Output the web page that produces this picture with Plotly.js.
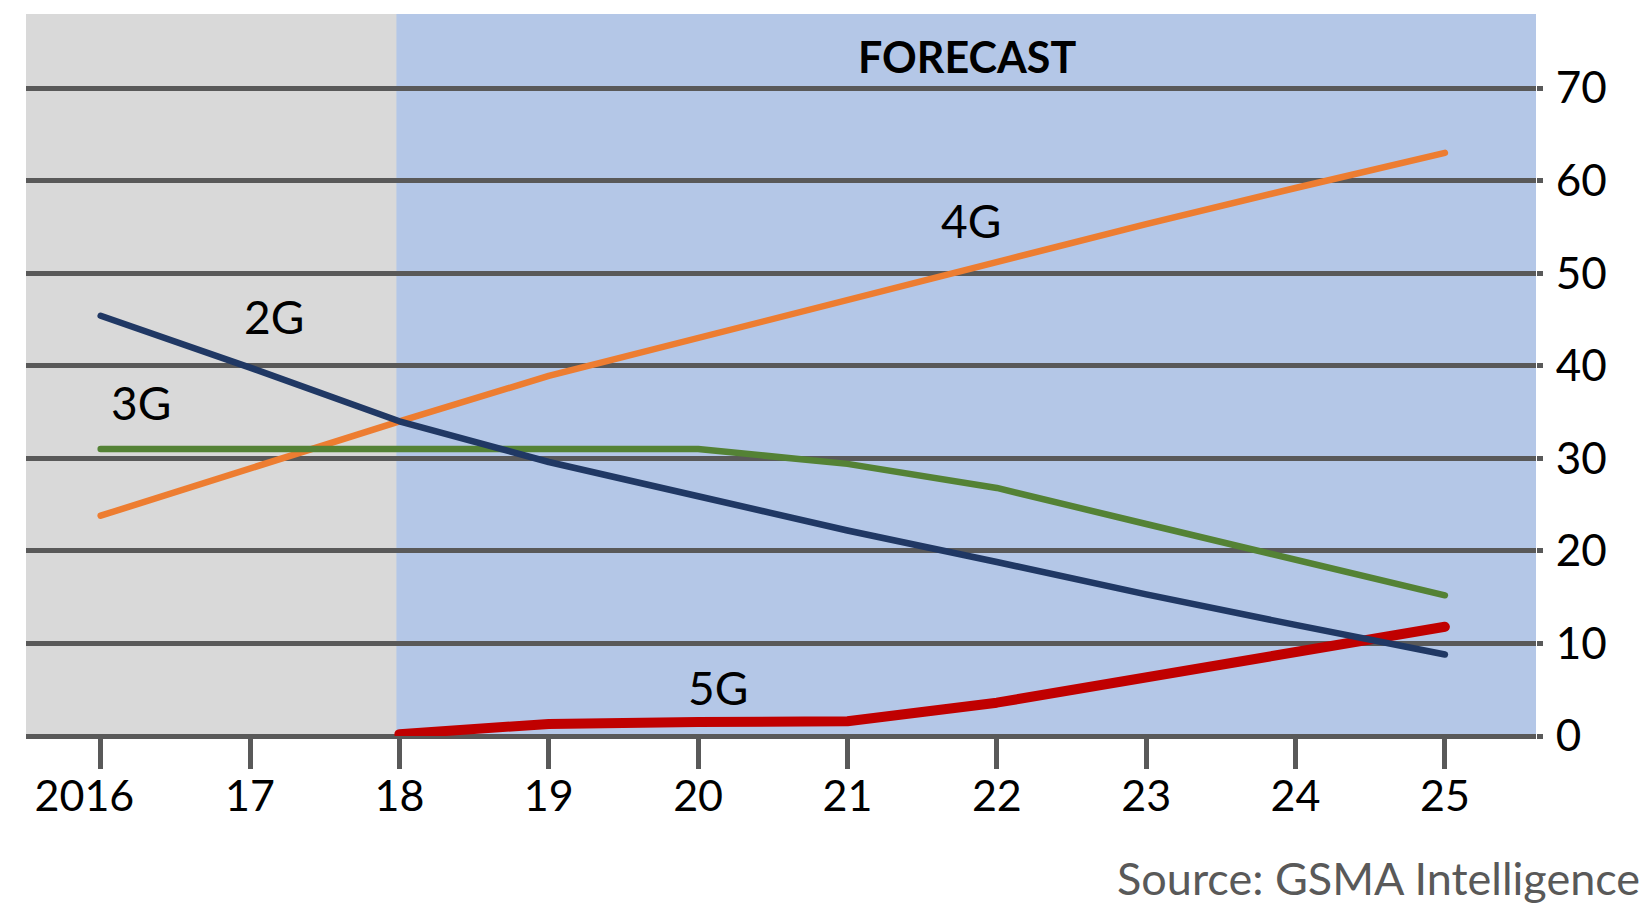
<!DOCTYPE html>
<html>
<head>
<meta charset="utf-8">
<script src="https://cdn.plot.ly/plotly-3.0.1.min.js"></script>
<style>
html, body { margin: 0; padding: 0; background: #ffffff; }
#chart { width: 1645px; height: 908px; }
.scatterlayer path.js-line { stroke-linecap: round; stroke-linejoin: round; }
</style>
</head>
<body>
<div id="chart"></div>
<script>
// Years on the x axis
const years = [2016, 2017, 2018, 2019, 2020, 2021, 2022, 2023, 2024, 2025];
const yearLabels = ["2016\u2002\u00a0", "17", "18", "19", "20", "21", "22", "23", "24", "25"];

// Series values
const g2 = [45.4, 39.8, 34.0, 29.6, 25.9, 22.2, 18.8, 15.3, 12.0, 8.8];
const g3 = [31.0, 31.0, 31.0, 31.0, 31.0, 29.4, 26.8, 22.9, 19.1, 15.2];
const g4 = [23.8, 28.9, 34.0, 38.9, 43.0, 47.1, 51.2, 55.3, 59.2, 63.0];
const g5 = [null, null, 0.2, 1.3, 1.5, 1.6, 3.6, 6.3, 9.0, 11.8];

// Series labels and where they sit
const seriesNames = ["2G", "3G", "4G", "5G"];
const labelX = [2017.16, 2016.27, 2021.83, 2020.13];
const labelY = [45.3, 36.0, 55.7, 5.2];

const yTicks = [0, 10, 20, 30, 40, 50, 60, 70];
const forecastStart = 2018;

const FONT = "Lato, 'Noto Sans', sans-serif";

const traces = [
  { x: years, y: g5, name: "5G", mode: "lines", line: { color: "#C00000", width: 10 }, connectgaps: false },
  { x: years, y: g4, name: "4G", mode: "lines", line: { color: "#ED7D31", width: 6.5 } },
  { x: years, y: g3, name: "3G", mode: "lines", line: { color: "#548235", width: 6.5 } },
  { x: years, y: g2, name: "2G", mode: "lines", line: { color: "#203864", width: 6.5 } }
];

const annotations = seriesNames.map((n, i) => ({
  x: labelX[i], y: labelY[i], xref: "x", yref: "y", text: n, showarrow: false,
  font: { family: FONT, size: 46, color: "#000000" }
}));
annotations.push({
  x: 2021.8, y: 73.4, xref: "x", yref: "y", text: "<b>FORECAST</b>", showarrow: false,
  font: { family: FONT, size: 43, color: "#000000" }
});
annotations.push({
  x: 1, y: 0, xref: "paper", yref: "paper", xanchor: "right", yanchor: "bottom",
  xshift: 106, yshift: -171, text: "Source: GSMA Intelligence", showarrow: false,
  font: { family: FONT, size: 45, color: "#595959" }
});

const layout = {
  width: 1645, height: 908,
  margin: { l: 26, r: 109, t: 14, b: 172, pad: 0 },
  paper_bgcolor: "#ffffff",
  plot_bgcolor: "#B4C7E7",
  showlegend: false,
  font: { family: FONT, size: 43, color: "#000000" },
  xaxis: {
    range: [2015.5, 2025.61],
    tickvals: years, ticktext: yearLabels,
    showgrid: false, zeroline: false, showline: false,
    ticks: "outside", ticklen: 32, tickwidth: 5, tickcolor: "#595959",
    ticklabelstandoff: -10,
    tickfont: { family: FONT, size: 43, color: "#000000" },
    fixedrange: true
  },
  yaxis: {
    range: [0, 78], side: "right",
    tickvals: yTicks,
    showgrid: true, gridcolor: "#595959", gridwidth: 5,
    zeroline: true, zerolinecolor: "#595959", zerolinewidth: 5,
    ticks: "outside", ticklen: 6, tickwidth: 5, tickcolor: "#595959",
    ticklabelstandoff: 4,
    tickfont: { family: FONT, size: 44, color: "#000000" },
    fixedrange: true
  },
  shapes: [{
    type: "rect", xref: "x", yref: "y", layer: "below",
    x0: 2015.5, x1: forecastStart - 0.02, y0: 0, y1: 78,
    fillcolor: "#D9D9D9", line: { width: 0 }
  }],
  annotations: annotations
};

Plotly.newPlot("chart", traces, layout, { displayModeBar: false, staticPlot: true });
</script>
</body>
</html>
